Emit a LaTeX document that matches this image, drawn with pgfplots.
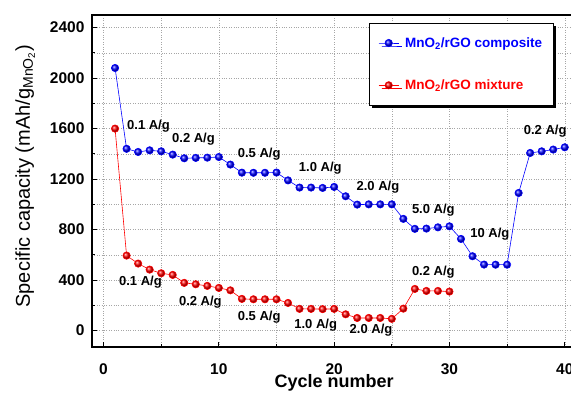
\documentclass[border=0pt]{standalone}
\usepackage{fontspec}
\setmainfont{Liberation Sans}
\usepackage{pgfplots}
\pgfplotsset{compat=1.18}
\usetikzlibrary{shadows}

\begin{document}
\begin{tikzpicture}
\path[use as bounding box] (-92pt,-48pt) rectangle (479pt,347pt);
\clip (-92pt,-48pt) rectangle (479pt,347pt);
\begin{axis}[
  at={(0pt,0pt)}, anchor=south west,
  scale only axis, width=484.3pt, height=332pt,
  xmin=-1, xmax=41, ymin=-130, ymax=2500,
  xtick={0,10,20,30,40}, minor xtick={5,15,25,35},
  ytick={0,400,...,2400}, minor ytick={200,600,...,2200},
  tick pos=left,
  grid=both, grid style={dotted, gray!70, line width=0.5pt},
  major tick length=5pt, minor tick length=3pt,
  tick style={black, line width=1pt},
  axis line style={line width=1.2pt},
  tick label style={font=\fontsize{15.5}{18}\selectfont\bfseries},
  /pgf/number format/assume math mode=true,
  /pgf/number format/1000 sep={},
  xticklabel style={yshift=-13pt},
  yticklabel style={xshift=-4pt},
  xlabel={Cycle number},
  xlabel style={at={(axis description cs:0.5,-0.1235)}, anchor=base, font=\fontsize{18}{21}\selectfont\bfseries},
  ylabel={Specific capacity (mAh/g\textsubscript{MnO\textsubscript{2}})},
  ylabel style={at={(axis description cs:-0.138,0.514)}, anchor=center, font=\fontsize{20}{24}\selectfont},
  legend style={at={(0.572,0.976)}, anchor=north west, draw=black, line width=0.8pt, fill=white,
    inner xsep=9pt, inner ysep=12pt, row sep=27pt,
    font=\fontsize{13.5}{16}\selectfont\bfseries, cells={anchor=west},
    general shadow={fill=black, shadow xshift=3pt, shadow yshift=-3pt}},
  legend image code/.code={\draw[mark repeat=2,mark phase=2,#1] plot coordinates {(0pt,0pt) (10pt,0pt) (20pt,0pt)};},
]
\addplot[blue, line width=0.6pt, mark=ball, mark size=3.7pt, mark options={ball color=blue}] coordinates {
(1,2080)(2,1440)(3,1415)(4,1428)(5,1420)(6,1394)(7,1365)(8,1368)(9,1370)(10,1375)
(11,1315)(12,1251)(13,1250)(14,1250)(15,1252)(16,1190)(17,1133)(18,1133)(19,1130)(20,1138)
(21,1064)(22,998)(23,1000)(24,1000)(25,1000)(26,885)(27,806)(28,808)(29,818)(30,826)
(31,726)(32,589)(33,523)(34,522)(35,522)(36,1090)(37,1407)(38,1420)(39,1434)(40,1452)};
\addlegendentry[text=blue]{\hspace{4pt}MnO\textsubscript{2}/rGO composite\hspace{12pt}}
\addplot[red, line width=0.6pt, mark=ball, mark size=3.7pt, mark options={ball color=red}] coordinates {
(1,1600)(2,594)(3,531)(4,483)(5,454)(6,441)(7,378)(8,367)(9,354)(10,338)
(11,319)(12,251)(13,248)(14,248)(15,248)(16,219)(17,172)(18,172)(19,170)(20,172)
(21,129)(22,100)(23,100)(24,100)(25,93)(26,174)(27,330)(28,314)(29,314)(30,309)};
\addlegendentry[text=red]{\hspace{4pt}MnO\textsubscript{2}/rGO mixture}
\begin{scope}[every node/.style={font=\fontsize{13}{15}\selectfont\bfseries}]
\node at (axis cs:3.9,1616) {0.1 A/g};
\node at (axis cs:7.8,1513) {0.2 A/g};
\node at (axis cs:13.5,1394) {0.5 A/g};
\node at (axis cs:18.8,1283) {1.0 A/g};
\node at (axis cs:23.8,1133) {2.0 A/g};
\node at (axis cs:28.6,950) {5.0 A/g};
\node at (axis cs:33.5,760) {10 A/g};
\node at (axis cs:38.3,1576) {0.2 A/g};
\node at (axis cs:3.2,380) {0.1 A/g};
\node at (axis cs:8.4,222) {0.2 A/g};
\node at (axis cs:13.5,103) {0.5 A/g};
\node at (axis cs:18.4,40) {1.0 A/g};
\node at (axis cs:23.2,0) {2.0 A/g};
\node at (axis cs:28.6,460) {0.2 A/g};
\end{scope}
\end{axis}
\end{tikzpicture}
\end{document}
